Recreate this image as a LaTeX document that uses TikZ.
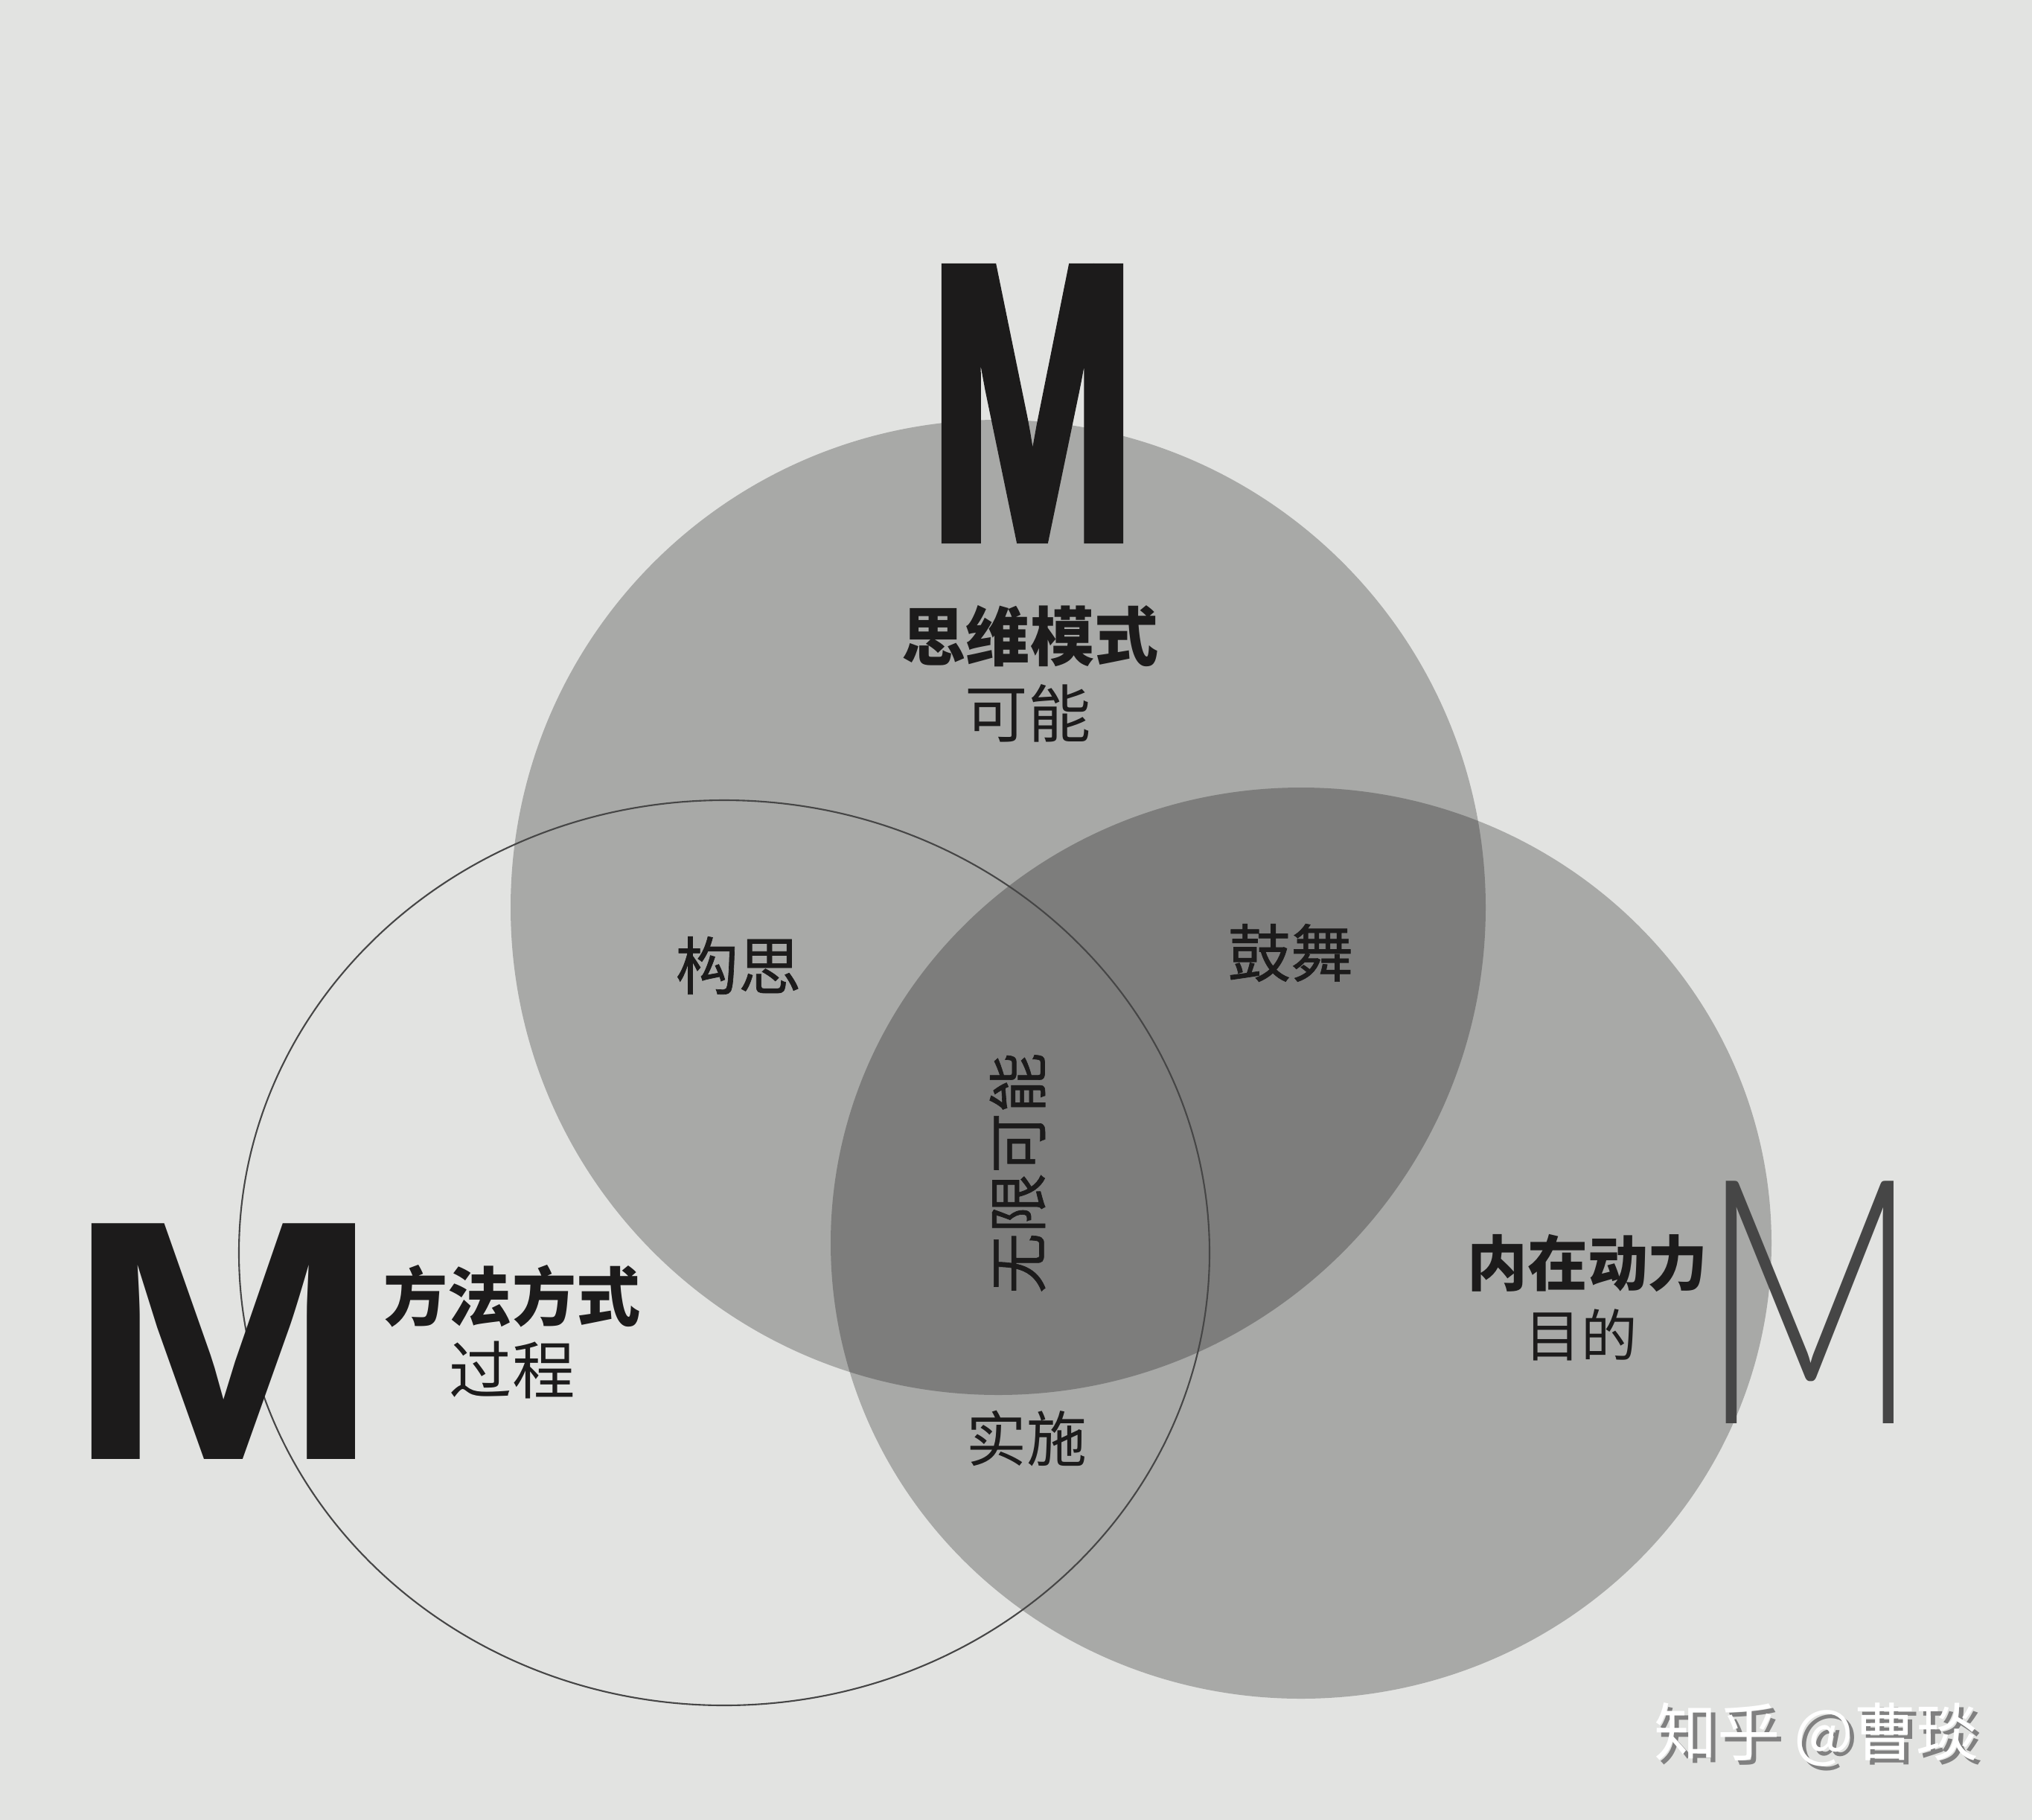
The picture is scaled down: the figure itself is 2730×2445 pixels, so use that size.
\documentclass[tikz,border=0pt]{standalone}
\usepackage{fontspec}
\usepackage{xcolor}
\setmainfont{Liberation Sans}
\newfontfamily\cjk{Noto Sans CJK SC}
\newfontfamily\cjkmid{Noto Sans CJK SC}[FakeBold=0.8]
\newfontfamily\heavyfont{Liberation Sans Bold}[FakeBold=3]
\newfontfamily\thinfont{Lato Light}
\definecolor{paper}{RGB}{226,227,225}
\definecolor{ink}{RGB}{28,27,27}
\definecolor{rim}{RGB}{70,70,70}
\newcommand{\shadowtext}[1]{\makebox[0pt][l]{\hspace{0.6mm}\raisebox{-0.6mm}{\color{gray}#1}}#1}

\begin{document}
\begin{tikzpicture}[x=0.1mm,y=-0.1mm,
        zone/.style={fill=black,fill opacity=0.255},
        lbl/.style={inner sep=0pt,text=ink,font=\cjk\fontsize{24}{28}\selectfont},
        mid/.style={lbl,font=\cjkmid\fontsize{24}{28}\selectfont},
        head/.style={lbl,font=\cjk\bfseries\fontsize{24.5}{28}\selectfont}]
            \fill[paper] (0,0) rectangle (2730,2445);

            \fill[zone] (1341,1219) circle(655);
            \fill[zone] (1748,1670) ellipse[x radius=632,y radius=612];
            \draw[rim,line width=0.6pt] (973,1683) ellipse[x radius=652,y radius=608];

            \node[inner sep=0pt,text=ink,xscale=0.64,font=\heavyfont\fontsize{149}{149}\selectfont] at (1387,542) (Mtop) {M};
            \node[inner sep=0pt,text=ink,xscale=1.1,font=\bfseries\fontsize{131}{131}\selectfont] at (300,1802) (Mleft) {M};
            \node[inner sep=0pt,text=rim,xscale=0.7,font=\thinfont\fontsize{131}{131}\selectfont] at (2432,1750) (Mright) {M};

            \node[head] at (1384,855) (mind) {思维模式};
            \node[lbl] at (1381,958) (maybe) {可能};
            \node[mid] at (992,1297) (idea) {构思};
            \node[mid] at (1734,1280) (cheer) {鼓舞};
            \node[mid,rotate=90,font=\cjkmid\fontsize{23}{28}\selectfont] at (1367,1576) (infinite) {无限可能};
            \node[head] at (688,1741) (method) {方法方式};
            \node[lbl] at (688,1840) (process) {过程};
            \node[lbl,font=\cjk\fontsize{23}{28}\selectfont] at (1379,1932) (act) {实施};
            \node[head,font=\cjk\bfseries\fontsize{23}{28}\selectfont] at (2133,1697) (drive) {内在动力};
            \node[lbl,font=\cjk\fontsize{21.5}{28}\selectfont] at (2124,1793) (aim) {目的};

            \node[inner sep=0pt,text=white,font=\cjk\fontsize{24}{28}\selectfont] at (2441,2333) (mark) {\shadowtext{知乎 @曹琰}};
        \end{tikzpicture}
\end{document}
